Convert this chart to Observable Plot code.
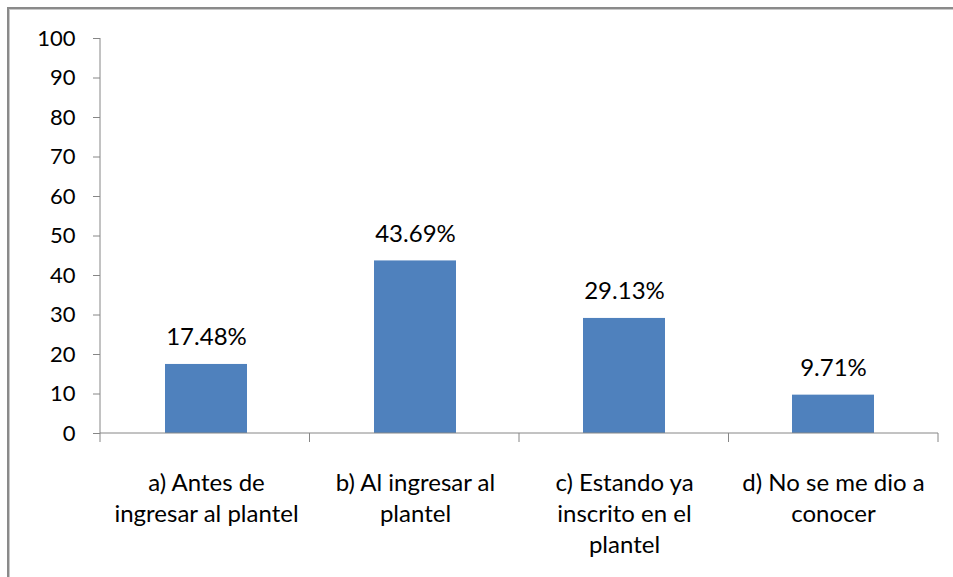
<!DOCTYPE html>
<html>
<head>
<meta charset="utf-8">
<script src="https://cdn.jsdelivr.net/npm/d3@7"></script>
<script src="https://cdn.jsdelivr.net/npm/@observablehq/plot@0.6"></script>
<style>
  html, body { margin: 0; padding: 0; background: #fff; overflow: hidden; }
  #wrap { position: relative; width: 953px; height: 577px; }
  #frame { position: absolute; left: 7px; top: 7px; width: 1000px; height: 700px;
           border-left: 2px solid #8a8a8a; border-top: 2px solid #8a8a8a; box-shadow: inset 1px 1px 0 #c8c8c8; }
  #chart { position: absolute; left: 0; top: 0; }
</style>
</head>
<body>
<div id="wrap"><div id="frame"></div><div id="chart"></div></div>
<script>
const categories = [
  "a) Antes de\ningresar al plantel",
  "b) Al ingresar al\nplantel",
  "c) Estando ya\ninscrito en el\nplantel",
  "d) No se me dio a\nconocer"
];
const values = [17.48, 43.69, 29.13, 9.71];
const yTicks = [0, 10, 20, 30, 40, 50, 60, 70, 80, 90, 100];

const data = categories.map((c, i) => ({category: c, value: values[i]}));
const FONT = "Lato, 'Open Sans', sans-serif";
const P = 0.61;

const boundaryTicks = (index, scales, values, dims) => {
  const g = d3.create("svg:g");
  const x0 = dims.marginLeft, x1 = dims.width - dims.marginRight;
  const y0 = dims.height - dims.marginBottom;
  const n = categories.length;
  for (let i = 0; i <= n; i++) {
    const x = x0 + (x1 - x0) * i / n;
    g.append("line").attr("x1", x).attr("x2", x).attr("y1", y0).attr("y2", y0 + 9)
      .attr("stroke", "#868686").attr("stroke-width", 1);
  }
  g.append("line").attr("x1", x0).attr("x2", x0).attr("y1", dims.marginTop).attr("y2", y0)
    .attr("stroke", "#868686").attr("stroke-width", 1);
  g.append("line").attr("x1", x0).attr("x2", x1).attr("y1", y0).attr("y2", y0)
    .attr("stroke", "#868686").attr("stroke-width", 1);
  return g.node();
};

const chart = Plot.plot({
  width: 953,
  height: 577,
  marginLeft: 100,
  marginRight: 15,
  marginTop: 38,
  marginBottom: 144,
  style: {fontFamily: FONT, fontSize: "22px", color: "#000", background: "transparent"},
  x: {domain: categories, paddingInner: P, paddingOuter: P / 2, label: null},
  y: {domain: [0, 100], label: null},
  marks: [
    Plot.barY(data, {x: "category", y: "value", fill: "#4F81BD"}),
    Plot.text(data, {x: "category", y: "value", text: d => d.value.toFixed(2) + "%",
      dy: -27, fontSize: 24, fill: "#000", fontFamily: FONT}),
    Plot.axisY({ticks: yTicks, tickSize: 7, tickPadding: 18, stroke: "#868686",
      fontSize: 22, fill: "#000", label: null}),
    Plot.axisX({tickSize: 0, tickPadding: 35, fontSize: 24, fill: "#000", lineHeight: 1.3, label: null}),
    boundaryTicks
  ]
});
document.getElementById("chart").appendChild(chart);
</script>
</body>
</html>
